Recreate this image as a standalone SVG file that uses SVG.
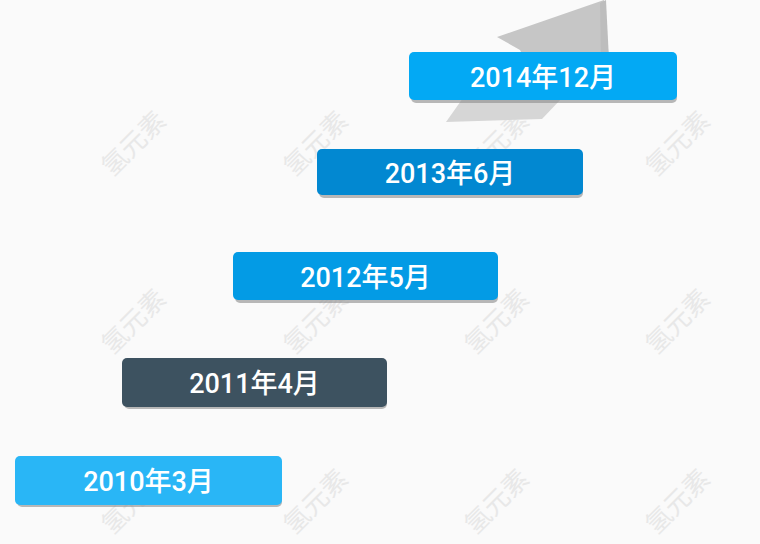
<svg xmlns="http://www.w3.org/2000/svg" width="760" height="544" viewBox="0 0 760 544">
  <style>
    .lbl { font-family: Roboto, "Noto Sans CJK SC", sans-serif; font-size: 27px; font-weight: 500; fill: #ffffff; text-anchor: middle; }
    .wm { font-family: "Noto Sans CJK SC", sans-serif; font-size: 26px; fill: #e8e8e8; text-anchor: middle; }
    .shadow { fill: #8a8a8a; opacity: 0.6; }
  </style>
  <rect x="0" y="0" width="760" height="544" fill="#fafafa"/>
  <g id="watermarks">
    <text class="wm" transform="translate(140,150) rotate(-45)">氢元素</text>
    <text class="wm" transform="translate(322,150) rotate(-45)">氢元素</text>
    <text class="wm" transform="translate(503,150) rotate(-45)">氢元素</text>
    <text class="wm" transform="translate(684,150) rotate(-45)">氢元素</text>
    <text class="wm" transform="translate(140,328) rotate(-45)">氢元素</text>
    <text class="wm" transform="translate(322,328) rotate(-45)">氢元素</text>
    <text class="wm" transform="translate(503,328) rotate(-45)">氢元素</text>
    <text class="wm" transform="translate(684,328) rotate(-45)">氢元素</text>
    <text class="wm" transform="translate(140,508) rotate(-45)">氢元素</text>
    <text class="wm" transform="translate(322,508) rotate(-45)">氢元素</text>
    <text class="wm" transform="translate(503,508) rotate(-45)">氢元素</text>
    <text class="wm" transform="translate(684,508) rotate(-45)">氢元素</text>
  </g>
  <g id="flag">
    <polygon points="604,0 609,60 525,60 520,50 497,37" fill="#c6c6c6"/>
    <polygon points="606,0 609,60 601,60 600,3" fill="#bdbdbd"/>
    <polygon points="463,98 562,98 542,119 446,122" fill="#d6d6d6"/>
  </g>
  <g id="connectors"></g>
  <g id="n2014">
    <rect class="shadow" x="411" y="55" width="266" height="48" rx="5"/>
    <rect x="409" y="52" width="268" height="48" rx="5" fill="#03A9F4"/>
    <text class="lbl" x="543" y="87">2014年12月</text>
  </g>
  <g id="n2013">
    <rect class="shadow" x="319" y="152" width="264" height="46" rx="5"/>
    <rect x="317" y="149" width="266" height="46" rx="5" fill="#0288D1"/>
    <text class="lbl" x="450" y="183">2013年6月</text>
  </g>
  <g id="n2012">
    <rect class="shadow" x="235" y="255" width="263" height="48" rx="5"/>
    <rect x="233" y="252" width="265" height="48" rx="5" fill="#039BE5"/>
    <text class="lbl" x="365.5" y="287">2012年5月</text>
  </g>
  <g id="n2011">
    <rect class="shadow" x="124" y="361" width="263" height="48" rx="5"/>
    <rect x="122" y="358" width="265" height="49" rx="5" fill="#3D5260"/>
    <text class="lbl" x="254.5" y="393">2011年4月</text>
  </g>
  <g id="n2010">
    <rect class="shadow" x="17" y="459" width="265" height="48" rx="5"/>
    <rect x="15" y="456" width="267" height="49" rx="5" fill="#29B6F6"/>
    <text class="lbl" x="148.5" y="491">2010年3月</text>
  </g>
</svg>
